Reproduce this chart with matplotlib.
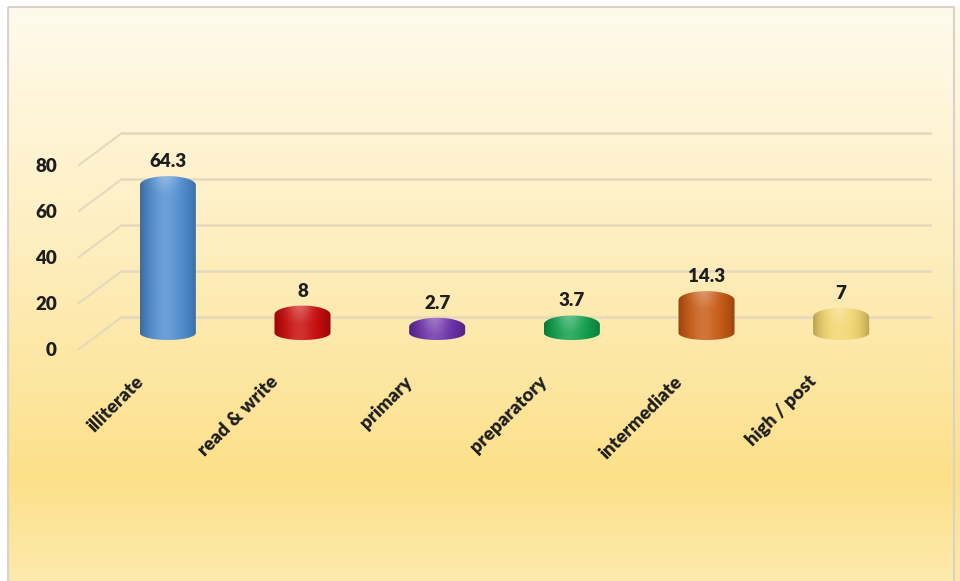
import numpy as np
import matplotlib
matplotlib.use("Agg")
import matplotlib.pyplot as plt
from matplotlib import transforms
from matplotlib.path import Path
from matplotlib.patches import PathPatch, Rectangle
from matplotlib.colors import to_rgb

# ==================== DATA ====================
categories = ["illiterate", "read & write", "primary", "preparatory",
              "intermediate", "high / post"]
values = [64.3, 8, 2.7, 3.7, 14.3, 7]
bar_colors = ["#4F8DD0", "#C80A0A", "#6A2EA8", "#0E9E4A", "#C85A14", "#F2D66E"]
y_ticks = [0, 20, 40, 60, 80]

# ==================== LAYOUT ====================
W, H, DPI = 960, 581, 100
PX_PER_UNIT = 2.3          # vertical pixels per value unit
DEPTH = (43, 32)           # back wall offset, px
MID = (21.5, 16)           # bars sit half way in depth, px
HALF_W = 0.208             # half bar width, category units
BOT_CAP, TOP_CAP = 7, 9    # elliptic caps, px
GRID = "#E4D9BC"
TEXT = "#1E1E1E"
FONT = "Lato"
WEIGHT = "heavy"

fig = plt.figure(figsize=(W / DPI, H / DPI), dpi=DPI)
fig.patch.set_facecolor("white")

# background gradient with a thin frame
bg = fig.add_axes([0, 0, 1, 1], zorder=-10)
bg.set_xlim(0, W)
bg.set_ylim(H, 0)
bg.axis("off")
stops_y = np.array([0.0, 0.45, 0.82, 1.0])
stops_c = np.array([to_rgb(c) for c in ["#FFFAEC", "#FEEDBB", "#FCE089", "#FDE9AC"]])
yy = np.linspace(0, 1, 400)
col = np.stack([np.interp(yy, stops_y, stops_c[:, k]) for k in range(3)], axis=1)
bg.imshow(col[:, None, :], extent=(8, W, H, 7), aspect="auto", interpolation="bilinear")
bg.add_patch(Rectangle((8, 7), W - 14, H + 5, fill=False, ec="#D9D2CC", lw=1.5))

ax = fig.add_axes([79 / W, (H - 367.4) / H, 808 / W, 248.4 / H])
ax.set_xlim(-0.5, 5.5)
ax.set_ylim(-8, 100)
ax.patch.set_alpha(0)
for s in ax.spines.values():
    s.set_visible(False)

back = ax.transData + transforms.ScaledTranslation(DEPTH[0] / DPI, DEPTH[1] / DPI, fig.dpi_scale_trans)
mid = ax.transData + transforms.ScaledTranslation(MID[0] / DPI, MID[1] / DPI, fig.dpi_scale_trans)

# back wall grid and the diagonal side lines
x0, x1 = ax.get_xlim()
for v in y_ticks:
    ax.plot([x0, x1], [v, v], color=GRID, lw=1.8, transform=back, clip_on=False, zorder=1)
    p = ax.transData.transform((x0, v))
    q = ax.transData.inverted().transform(p + np.array(DEPTH))
    ax.plot([x0, q[0]], [v, q[1]], color=GRID, lw=1.5, clip_on=False, zorder=1)


def cylinder(xc, h, color):
    ey_b = BOT_CAP / PX_PER_UNIT
    ey_t = TOP_CAP / PX_PER_UNIT
    th = np.linspace(np.pi, 0, 40)
    top = np.column_stack([xc + HALF_W * np.cos(th), h + ey_t * np.sin(th)])
    th2 = np.linspace(0, -np.pi, 40)
    bot = np.column_stack([xc + HALF_W * np.cos(th2), ey_b * np.sin(th2)])
    verts = np.vstack([[xc - HALF_W, 0], top, [xc + HALF_W, 0], bot, [xc - HALF_W, 0]])
    patch = PathPatch(Path(verts), fc="none", ec="none", transform=mid, clip_on=False)
    ax.add_patch(patch)

    t = np.linspace(0, 1, 160)
    base = np.array(to_rgb(color))
    edge = (np.abs(t - 0.5) * 2) ** 3
    hl = np.exp(-((t - 0.45) / 0.22) ** 2)
    row = base[None, :] * (1 - 0.25 * edge[:, None])
    row = row + (1 - row) * 0.16 * hl[:, None]
    ny = 80
    yv = np.linspace(1, 0, ny)
    img = np.repeat(row[None, :, :], ny, axis=0)
    # soft glow near the top of the cap
    cap_frac = (ey_t * 2) / (h + ey_t + ey_b)
    glow = np.clip(1 - (1 - yv) / max(cap_frac, 1e-3), 0, 1)[:, None] * hl[None, :]
    img = img + (1 - img) * 0.25 * glow[:, :, None]
    im = ax.imshow(np.clip(img, 0, 1), extent=(xc - HALF_W, xc + HALF_W, -ey_b, h + ey_t),
                   transform=mid, aspect="auto", interpolation="bilinear", zorder=3)
    im.set_clip_path(patch)
    im.set_clip_on(True)


for i, (v, c) in enumerate(zip(values, bar_colors)):
    cylinder(i, v, c)
    lab = mid + transforms.ScaledTranslation(0, (TOP_CAP + 6) / DPI, fig.dpi_scale_trans)
    ax.text(i, v, f"{v:g}", transform=lab, ha="center", va="bottom",
            fontsize=13.5, fontweight=WEIGHT, color=TEXT, family=FONT)

ax.set_xlim(-0.5, 5.5)
ax.set_ylim(-8, 100)

ax.set_yticks(y_ticks)
ax.set_yticklabels([str(v) for v in y_ticks], fontsize=13.5, fontweight=WEIGHT,
                   color=TEXT, family=FONT)
ax.set_xticks(range(len(categories)))
ax.set_xticklabels(categories, rotation=45, ha="right", va="top", fontsize=13.5,
                   fontweight=WEIGHT, color=TEXT, family=FONT)
ax.tick_params(axis="y", length=0, pad=16)
ax.tick_params(axis="x", length=0, pad=4)

fig.savefig("out.png", dpi=DPI)
